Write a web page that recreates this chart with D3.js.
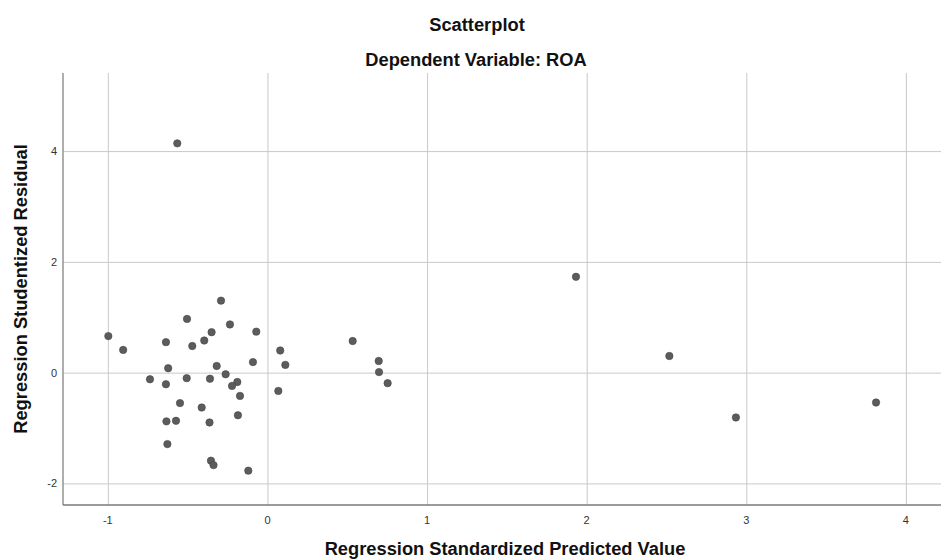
<!DOCTYPE html>
<html>
<head>
<meta charset="utf-8">
<script src="https://cdn.jsdelivr.net/npm/d3@7"></script>
<style>
  body { margin: 0; background: #fff; }
  text { font-family: "Liberation Sans", Arial, sans-serif; }
</style>
</head>
<body>
<div id="chart"></div>
<script>
// data
const predicted = [-0.565, -0.291, -0.504, -0.235, -0.070, -0.350, -0.997, -0.396, -0.636, -0.471,
                   -0.904, 0.080, -0.091, 0.112, -0.318, -0.622, -0.262, -0.736, -0.506, -0.360,
                   -0.189, -0.222, -0.636, 0.068, -0.172, -0.548, -0.412, -0.185, -0.633, -0.573,
                   -0.363, -0.627, -0.354, -0.338, -0.120, 0.534, 0.697, 0.699, 0.753, 1.933,
                   2.518, 2.935, 3.813];
const residual = [4.14, 1.30, 0.97, 0.87, 0.74, 0.73, 0.66, 0.58, 0.55, 0.48,
                  0.41, 0.40, 0.19, 0.14, 0.12, 0.08, -0.03, -0.12, -0.10, -0.11,
                  -0.17, -0.24, -0.21, -0.33, -0.42, -0.55, -0.63, -0.77, -0.88, -0.87,
                  -0.90, -1.29, -1.59, -1.67, -1.77, 0.57, 0.21, 0.01, -0.19, 1.73,
                  0.30, -0.81, -0.54];
const xTicks = [-1, 0, 1, 2, 3, 4];
const yTicks = [-2, 0, 2, 4];
const titleText = 'Scatterplot';
const subtitleText = 'Dependent Variable: ROA';
const xLabel = 'Regression Standardized Predicted Value';
const yLabel = 'Regression Studentized Residual';

const width = 941, height = 560;
const margin = {left: 63, right: -4, top: 73, bottom: 55};
const label_size = '18.3px';

const svg = d3.select('#chart').append('svg').attr('width', width).attr('height', height);

let points = predicted.map((d, i) => ({x: d, y: residual[i]}));

const x_scale = d3.scaleLinear().domain([-1.281, 4.245]).range([margin.left, width - margin.right]);
const y_scale = d3.scaleLinear().domain([-2.39, 5.41]).range([height - margin.bottom, margin.top]);

//grid lines
svg.append('g')
    .attr('class', 'grid-x')
    .attr('transform', `translate(0,${height - margin.bottom})`)
    .call(d3.axisBottom(x_scale).tickValues(xTicks).tickSize(-(height - margin.bottom - margin.top)).tickFormat(''))
    .call(g => g.select('.domain').remove())
    .call(g => g.selectAll('line').attr('stroke', '#c9c9c9').attr('stroke-width', 1));

svg.append('g')
    .attr('class', 'grid-y')
    .attr('transform', `translate(${margin.left},0)`)
    .call(d3.axisLeft(y_scale).tickValues(yTicks).tickSize(-(width - margin.right - margin.left)).tickFormat(''))
    .call(g => g.select('.domain').remove())
    .call(g => g.selectAll('line').attr('stroke', '#c9c9c9').attr('stroke-width', 1));

//axis lines + tick labels
svg.append('line')
    .attr('x1', margin.left).attr('x2', margin.left)
    .attr('y1', margin.top).attr('y2', height - margin.bottom)
    .attr('stroke', '#9a9a9a').attr('stroke-width', 1.6);
svg.append('line')
    .attr('x1', margin.left).attr('x2', width)
    .attr('y1', height - margin.bottom).attr('y2', height - margin.bottom)
    .attr('stroke', '#7a7a7a').attr('stroke-width', 1.4);

svg.append('g')
    .attr('class', 'x-labels')
    .selectAll('text')
    .data(xTicks)
    .join('text')
        .attr('x', d => x_scale(d))
        .attr('y', 524)
        .style('text-anchor', 'middle')
        .style('font-size', '11px')
        .style('fill', '#333')
        .text(d => d);

svg.append('g')
    .attr('class', 'y-labels')
    .selectAll('text')
    .data(yTicks)
    .join('text')
        .attr('x', 57)
        .attr('y', d => y_scale(d) + 4)
        .style('text-anchor', 'end')
        .style('font-size', '11px')
        .style('fill', '#333')
        .text(d => d);

//points
svg.append('g')
    .attr('class', 'plot-chart')
    .selectAll('.point')
    .data(points)
    .join('circle')
        .attr('class', 'point')
        .attr('cx', d => x_scale(d.x))
        .attr('cy', d => y_scale(d.y))
        .attr('r', 3.7)
        .attr('fill', '#5c5c5c')
        .attr('stroke', '#444')
        .attr('stroke-width', 0.6);

//titles
svg.append('text')
    .attr('x', 477).attr('y', 31)
    .style('text-anchor', 'middle').style('font-weight', 'bold').style('font-size', label_size).style('fill', '#111')
    .text(titleText);
svg.append('text')
    .attr('x', 476).attr('y', 66)
    .style('text-anchor', 'middle').style('font-weight', 'bold').style('font-size', label_size).style('fill', '#111')
    .text(subtitleText);
svg.append('text')
    .attr('x', 505).attr('y', 555)
    .style('text-anchor', 'middle').style('font-weight', 'bold').style('font-size', label_size).style('fill', '#111')
    .text(xLabel);
svg.append('text')
    .attr('transform', 'rotate(270)')
    .attr('x', -289).attr('y', 27)
    .style('text-anchor', 'middle').style('font-weight', 'bold').style('font-size', label_size).style('fill', '#111')
    .text(yLabel);
</script>
</body>
</html>
